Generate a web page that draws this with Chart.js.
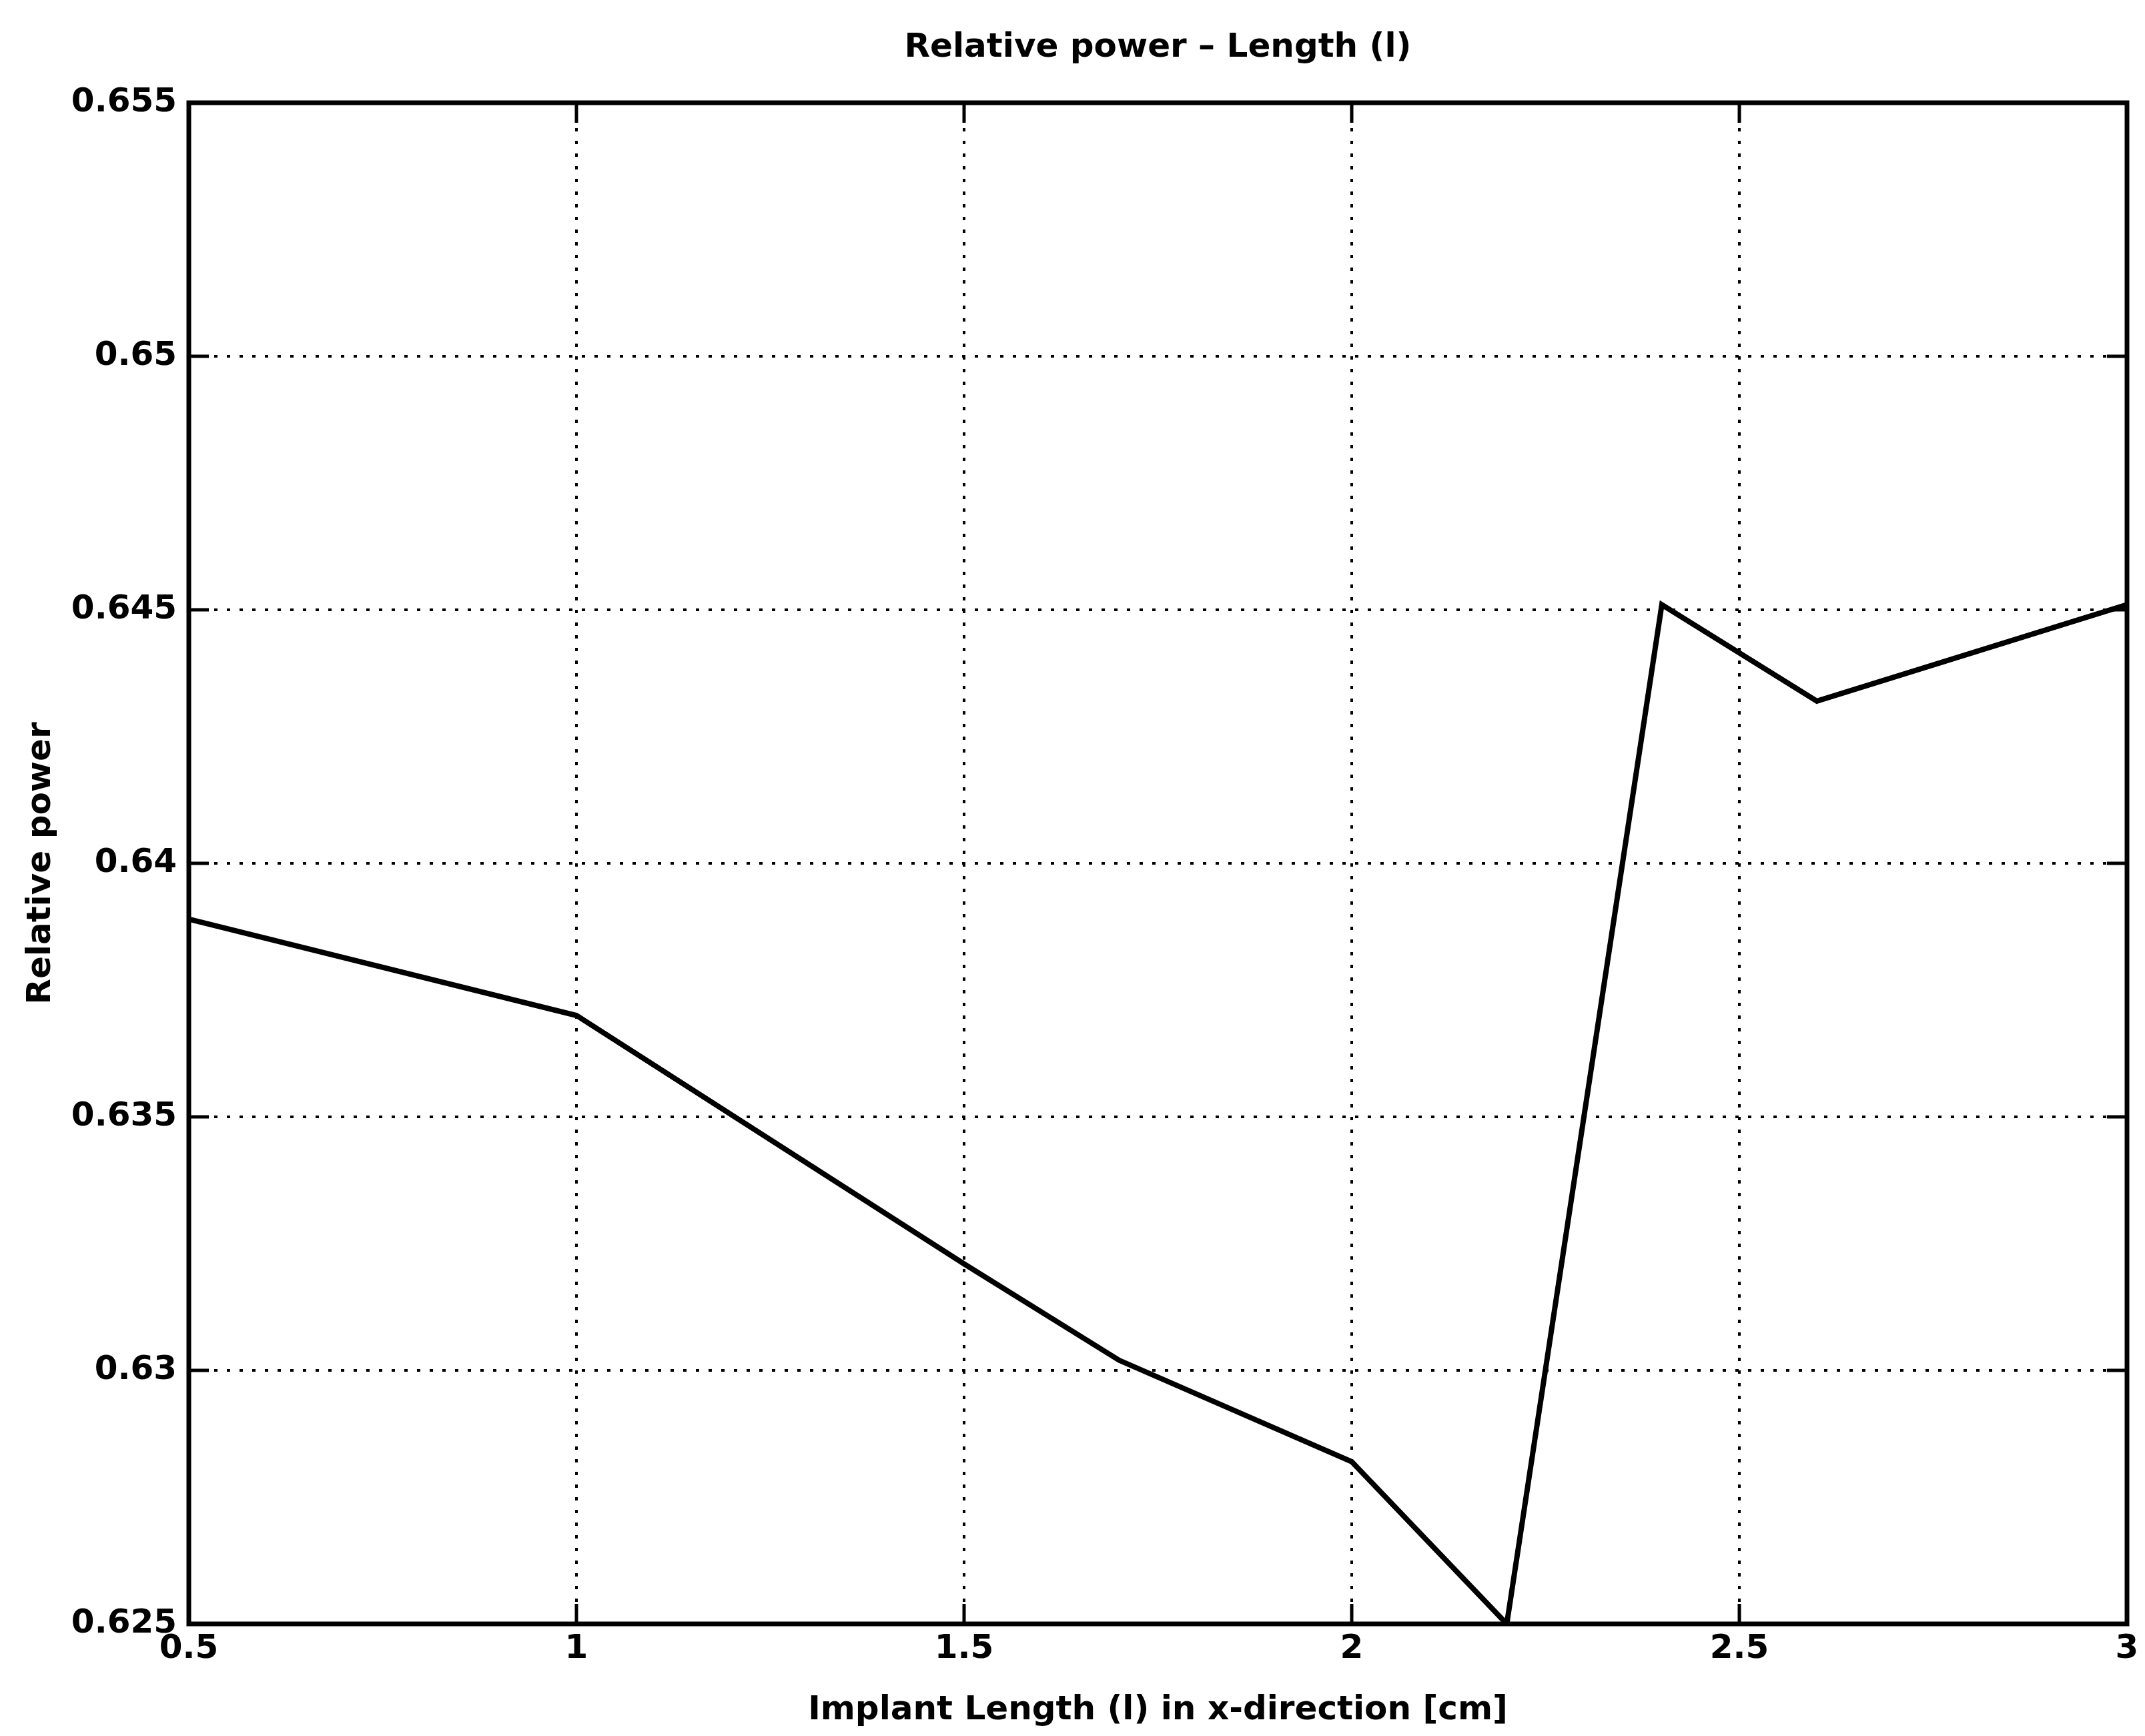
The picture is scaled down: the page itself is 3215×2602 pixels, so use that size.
<!DOCTYPE html>
<html>
<head>
<meta charset="utf-8">
<script src="https://cdn.jsdelivr.net/npm/chart.js@4/dist/chart.umd.min.js"></script>
<style>
  html, body { margin: 0; padding: 0; background: #fff; }
  canvas { display: block; }
</style>
</head>
<body>
<canvas id="chart" width="3215" height="2602"></canvas>
<script>
// Implant length (cm) and relative power
const lengths = [0.5, 1.0, 1.5, 1.7, 2.0, 2.2, 2.4, 2.6, 3.0];
const relPower = [0.6389, 0.6370, 0.6321, 0.6302, 0.6282, 0.6250, 0.6451, 0.6432, 0.6451];

const xTicks = [0.5, 1, 1.5, 2, 2.5, 3];
const xTickLabels = ["0.5", "1", "1.5", "2", "2.5", "3"];
const yTicks = [0.625, 0.63, 0.635, 0.64, 0.645, 0.65, 0.655];
const yTickLabels = ["0.625", "0.63", "0.635", "0.64", "0.645", "0.65", "0.655"];

const FONT = "'DejaVu Sans', 'Liberation Sans', Arial, sans-serif";

// box round the plot plus inward tick marks, matlab style
const boxPlugin = {
  id: "box",
  afterDatasetsDraw(chart) {
    const { ctx, chartArea: a, scales } = chart;
    const len = 30;
    ctx.save();
    ctx.strokeStyle = "#000";
    ctx.lineWidth = 5;
    ctx.beginPath();
    xTicks.forEach((v) => {
      const px = scales.x.getPixelForValue(v);
      ctx.moveTo(px, a.bottom);
      ctx.lineTo(px, a.bottom - len);
      ctx.moveTo(px, a.top);
      ctx.lineTo(px, a.top + len);
    });
    yTicks.forEach((v) => {
      const py = scales.y.getPixelForValue(v);
      ctx.moveTo(a.left, py);
      ctx.lineTo(a.left + len, py);
      ctx.moveTo(a.right, py);
      ctx.lineTo(a.right - len, py);
    });
    ctx.stroke();
    ctx.lineWidth = 7;
    ctx.strokeRect(a.left, a.top, a.right - a.left, a.bottom - a.top);
    ctx.restore();
  },
};

new Chart(document.getElementById("chart"), {
  type: "line",
  data: {
    datasets: [
      {
        data: lengths.map((x, i) => ({ x: x, y: relPower[i] })),
        borderColor: "#000",
        borderWidth: 8,
        pointRadius: 0,
        tension: 0,
        fill: false,
      },
    ],
  },
  options: {
    responsive: false,
    animation: false,
    layout: { padding: { left: 0, right: 27, top: 0, bottom: 0 } },
    plugins: {
      legend: { display: false },
      tooltip: { enabled: false },
    },
    scales: {
      // top axis only carries the plot title, centred over the axes box
      top: {
        type: "linear",
        position: "top",
        min: 0.5,
        max: 3,
        afterFit: (s) => {
          s.height = 154;
        },
        ticks: { display: false },
        grid: { display: false, drawTicks: false },
        border: { display: false },
        title: {
          display: true,
          text: "Relative power \u2013 Length (l)",
          color: "#000",
          font: { family: FONT, size: 50, weight: "bold" },
          padding: { top: 42, bottom: 0 },
        },
      },
      x: {
        type: "linear",
        min: 0.5,
        max: 3,
        afterBuildTicks: (s) => {
          s.ticks = xTicks.map((v) => ({ value: v }));
        },
        afterFit: (s) => {
          s.height = 168;
        },
        ticks: {
          color: "#000",
          padding: 8,
          maxRotation: 0,
          font: { family: FONT, size: 50, weight: "bold" },
          callback: (v) => xTickLabels[xTicks.indexOf(v)],
        },
        grid: {
          color: "#000",
          lineWidth: 4,
          drawTicks: false,
        },
        border: { display: false, dash: [5, 14] },
        title: {
          display: true,
          text: "Implant Length (l) in x-direction [cm]",
          color: "#000",
          font: { family: FONT, size: 50, weight: "bold" },
          padding: { top: 0, bottom: 8 },
        },
      },
      y: {
        type: "linear",
        min: 0.625,
        max: 0.655,
        afterBuildTicks: (s) => {
          s.ticks = yTicks.map((v) => ({ value: v }));
        },
        afterFit: (s) => {
          s.width = 283;
        },
        ticks: {
          color: "#000",
          padding: 18,
          font: { family: FONT, size: 50, weight: "bold" },
          callback: (v) => yTickLabels[yTicks.indexOf(v)],
        },
        grid: {
          color: "#000",
          lineWidth: 4,
          drawTicks: false,
        },
        border: { display: false, dash: [5, 14] },
        title: {
          display: true,
          text: "Relative power",
          color: "#000",
          font: { family: FONT, size: 50, weight: "bold" },
          padding: { top: 32, bottom: 0 },
        },
      },
    },
  },
  plugins: [boxPlugin],
});
</script>
</body>
</html>
